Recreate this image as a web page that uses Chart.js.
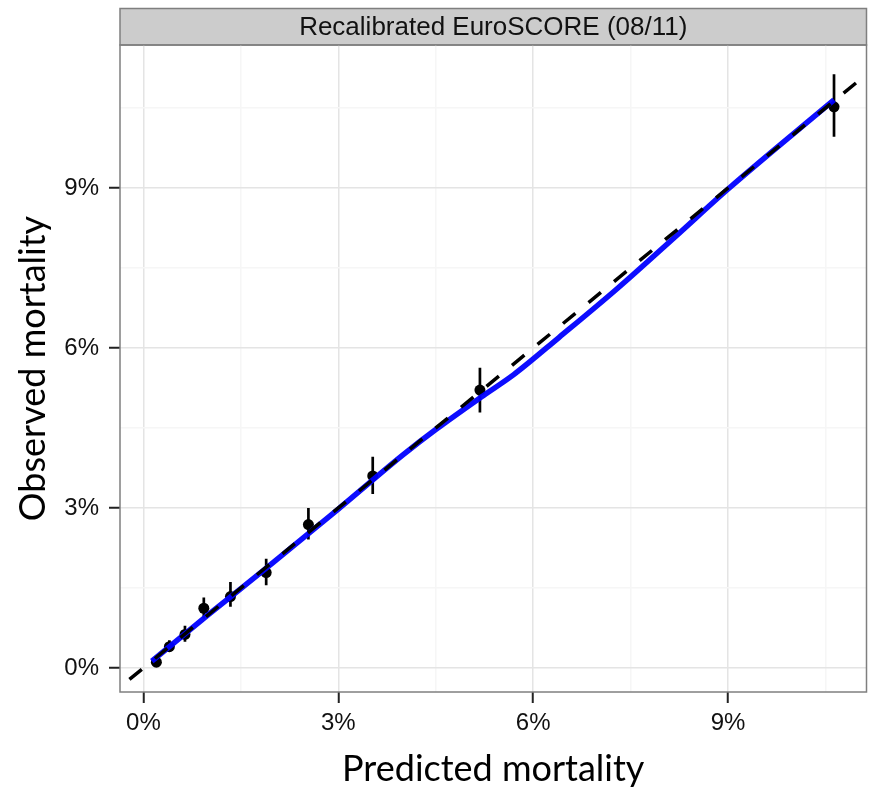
<!DOCTYPE html>
<html>
<head>
<meta charset="utf-8">
<script src="https://cdn.jsdelivr.net/npm/chart.js@4.4.0/dist/chart.umd.min.js"></script>
<style>
  html, body { margin: 0; padding: 0; background: #ffffff; }
  #wrap { width: 872px; height: 791px; }
</style>
</head>
<body>
<div id="wrap"><canvas id="c" width="872" height="791"></canvas></div>
<script>
// ---- data (percent) ----
const stripTitle = 'Recalibrated EuroSCORE (08/11)';
const predicted = [0.20, 0.40, 0.64, 0.93, 1.34, 1.89, 2.54, 3.53, 5.18, 10.63];
const observed  = [0.11, 0.40, 0.63, 1.12, 1.34, 1.79, 2.69, 3.60, 5.21, 10.52];
const lowerCI   = [0.07, 0.30, 0.49, 0.93, 1.15, 1.55, 2.41, 3.26, 4.79, 9.96];
const upperCI   = [0.18, 0.52, 0.79, 1.32, 1.61, 2.05, 3.00, 3.96, 5.63, 11.13];
const smoothX   = [0.13, 1.0, 2.0, 3.0, 4.0, 4.5, 5.2, 5.7, 6.4, 7.3, 8.2, 9.0, 10.63];
const smoothY   = [0.13, 1.0, 1.98, 2.98, 4.0, 4.47, 5.08, 5.5, 6.2, 7.12, 8.1, 8.98, 10.65];
const refLineX  = [-1, 12];
const tickValues = [0, 1.5, 3, 4.5, 6, 7.5, 9, 10.5];
const majorTicks = [0, 3, 6, 9];
const xRange = [-0.36, 11.13];
const yRange = [-0.45, 11.68];

// build library data
const pointData = predicted.map((x, i) => ({x: x, y: observed[i]}));
const errData = [];
predicted.forEach((x, i) => {
  errData.push({x: x, y: lowerCI[i]});
  errData.push({x: x, y: upperCI[i]});
  errData.push({x: x, y: null});
});
const smoothData = smoothX.map((x, i) => ({x: x, y: smoothY[i]}));
const refData = refLineX.map(v => ({x: v, y: v}));

const isMajor = v => majorTicks.some(m => Math.abs(m - v) < 1e-6);

const panelPlugin = {
  id: 'panel',
  beforeDraw(chart) {
    const {ctx, chartArea: a} = chart;
    ctx.save();
    ctx.fillStyle = '#ffffff';
    ctx.fillRect(0, 0, chart.width, chart.height);
    // strip
    ctx.fillStyle = '#cccccc';
    ctx.fillRect(a.left, 8, a.right - a.left, a.top - 8);
    ctx.strokeStyle = '#7f7f7f';
    ctx.lineWidth = 1.5;
    ctx.strokeRect(a.left, 8.5, a.right - a.left, a.top - 8.5);
    ctx.fillStyle = '#111111';
    ctx.font = '26px "Liberation Sans", Arial, sans-serif';
    ctx.textAlign = 'center';
    ctx.textBaseline = 'middle';
    ctx.fillText(stripTitle, (a.left + a.right) / 2, 28);
    ctx.restore();
  },
  afterDraw(chart) {
    const {ctx, chartArea: a} = chart;
    ctx.save();
    ctx.strokeStyle = '#7f7f7f';
    ctx.lineWidth = 1.5;
    ctx.strokeRect(a.left, a.top, a.right - a.left, a.bottom - a.top);
    ctx.restore();
  }
};

const tickFont = {family: '"Liberation Sans", Arial, sans-serif', size: 24};
const titleFont = {family: 'Lato, "Open Sans", sans-serif', size: 36};

function axisCommon(range, titleText, titlePad) {
  return {
    type: 'linear',
    min: range[0],
    max: range[1],
    afterBuildTicks: s => { s.ticks = tickValues.map(v => ({value: v})); },
    border: {display: false},
    grid: {
      color: c => (c.tick && isMajor(c.tick.value)) ? '#e4e4e4' : '#f6f6f6',
      lineWidth: 1.5,
      drawTicks: true,
      tickLength: 11,
      tickWidth: 2,
      tickColor: c => (c.tick && isMajor(c.tick.value)) ? '#222222' : 'rgba(0,0,0,0)'
    },
    ticks: {
      autoSkip: false,
      maxRotation: 0,
      color: '#111111',
      font: tickFont,
      callback: v => isMajor(v) ? (Math.round(v) + '%') : ''
    },
    title: {
      display: true,
      text: titleText,
      color: '#000000',
      font: titleFont,
      padding: titlePad
    }
  };
}

const xAxis = axisCommon(xRange, 'Predicted mortality', {top: 0, bottom: 0});
xAxis.position = 'bottom';
xAxis.ticks.padding = 6;
xAxis.afterFit = s => { s.height = 99; };

const yAxis = axisCommon(yRange, 'Observed mortality', {top: 12, bottom: 0});
yAxis.position = 'left';
yAxis.ticks.padding = 10;
yAxis.afterFit = s => { s.width = 120; };

new Chart(document.getElementById('c'), {
  type: 'scatter',
  data: {
    datasets: [
      {
        label: 'reference',
        type: 'line',
        data: refData,
        borderColor: '#000000',
        borderWidth: 3.5,
        borderDash: [16, 17],
        pointRadius: 0,
        fill: false,
        clip: 0,
        order: 0
      },
      {
        label: 'smooth',
        type: 'line',
        data: smoothData,
        borderColor: 'rgba(0,0,255,0.95)',
        borderWidth: 5.5,
        pointRadius: 0,
        cubicInterpolationMode: 'monotone',
        fill: false,
        order: 1
      },
      {
        label: 'ci',
        type: 'line',
        data: errData,
        borderColor: '#000000',
        borderWidth: 2.7,
        pointRadius: 0,
        spanGaps: false,
        fill: false,
        order: 2
      },
      {
        label: 'observed',
        data: pointData,
        backgroundColor: '#000000',
        borderColor: '#000000',
        pointRadius: 5.5,
        borderWidth: 0,
        order: 3
      }
    ]
  },
  options: {
    responsive: false,
    animation: false,
    devicePixelRatio: 1,
    layout: {padding: {left: 0, right: 4, top: 45, bottom: 0}},
    plugins: {
      legend: {display: false},
      tooltip: {enabled: false},
      title: {display: false}
    },
    scales: {x: xAxis, y: yAxis}
  },
  plugins: [panelPlugin]
});
</script>
</body>
</html>
